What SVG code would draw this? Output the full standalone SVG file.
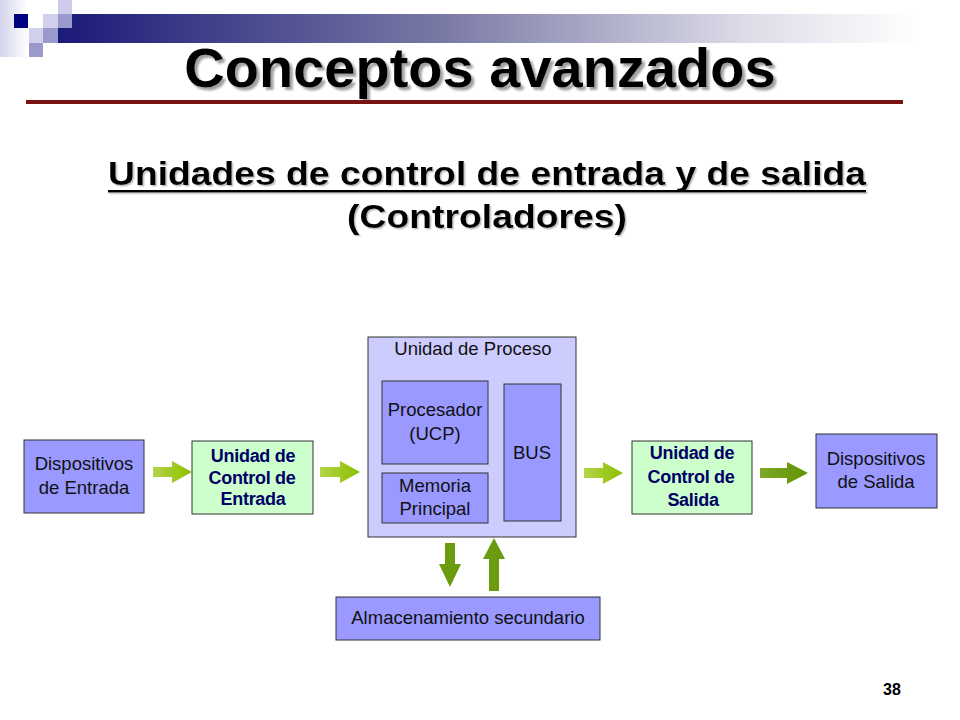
<svg xmlns="http://www.w3.org/2000/svg" width="960" height="720" viewBox="0 0 960 720">
<defs>
<linearGradient id="bar" x1="0" y1="0" x2="1" y2="0">
<stop offset="0" stop-color="#1a1a78"/>
<stop offset="0.45" stop-color="#7a7aa6"/>
<stop offset="0.8" stop-color="#dcdce8"/>
<stop offset="1" stop-color="#ffffff"/>
</linearGradient>
<linearGradient id="strip" x1="0" y1="0" x2="1" y2="0">
<stop offset="0" stop-color="#d4d4ec"/>
<stop offset="1" stop-color="#ffffff"/>
</linearGradient>
<linearGradient id="gA" x1="0" y1="0" x2="1" y2="0">
<stop offset="0" stop-color="#b4d44a"/>
<stop offset="1" stop-color="#8cbf00"/>
</linearGradient>
<linearGradient id="gB" x1="0" y1="0" x2="1" y2="0">
<stop offset="0" stop-color="#7fa82a"/>
<stop offset="1" stop-color="#5f9400"/>
</linearGradient>
<filter id="shadow" x="-5%" y="-20%" width="110%" height="140%">
<feDropShadow dx="3" dy="3" stdDeviation="0.8" flood-color="#888" flood-opacity="0.8"/>
</filter>
<filter id="shadow2" x="-5%" y="-20%" width="110%" height="140%">
<feDropShadow dx="1.5" dy="1.5" stdDeviation="0.6" flood-color="#999" flood-opacity="0.6"/>
</filter>
<style>
.box{stroke:#333;stroke-width:1}
.blue{fill:#9999ff}
.pale{fill:#ccccff}
.green{fill:#ccffcc}
.t{font-family:"Liberation Sans",Arial,sans-serif;font-size:18.5px;fill:#111;text-anchor:middle}
.b{font-family:"Liberation Sans",Arial,sans-serif;font-size:18px;font-weight:bold;fill:#000066;text-anchor:middle;letter-spacing:-0.3px}
.va{fill:#6b9c10}
</style>
</defs>

<g id="header">
<rect x="0" y="0" width="28" height="57" fill="url(#strip)"/>
<rect x="58" y="14" width="860" height="29" fill="url(#bar)"/>
<rect x="14" y="14" width="14" height="14" fill="#000080"/>
<rect x="58" y="0" width="14" height="14" fill="#ccccea"/>
<rect x="43" y="14" width="15" height="14" fill="#d0d0ec"/>
<rect x="58" y="14" width="14" height="14" fill="#9999cc"/>
<rect x="29" y="28" width="14" height="15" fill="#d0d0ec"/>
<rect x="43" y="28" width="15" height="15" fill="#9999cc"/>
<rect x="29" y="43" width="14" height="14" fill="#9999cc"/>
<text x="480" y="87" font-family="Liberation Sans,Arial,sans-serif" font-size="56" font-weight="bold" fill="#000" text-anchor="middle" filter="url(#shadow)">Conceptos avanzados</text>
<rect x="26" y="100" width="877" height="4" fill="#7a1212"/>
</g>

<g id="subtitle" filter="url(#shadow2)">
<text x="108" y="185" font-family="Liberation Sans,Arial,sans-serif" font-size="34" font-weight="bold" fill="#000" textLength="758" lengthAdjust="spacingAndGlyphs">Unidades de control de entrada y de salida</text>
<rect x="108" y="190" width="758" height="2.5" fill="#000"/>
<text x="347" y="228" font-family="Liberation Sans,Arial,sans-serif" font-size="34" font-weight="bold" fill="#000" textLength="280" lengthAdjust="spacingAndGlyphs">(Controladores)</text>
</g>

<g id="disp-entrada">
<rect class="box blue" x="24" y="440" width="120" height="73"/>
<text class="t" x="84" y="470">Dispositivos</text>
<text class="t" x="84" y="494">de Entrada</text>
</g>

<g id="uc-entrada">
<rect class="box green" x="192" y="441" width="121" height="73"/>
<text class="b" x="253" y="462">Unidad de</text>
<text class="b" x="252" y="484">Control de</text>
<text class="b" x="253" y="505">Entrada</text>
</g>

<g id="unidad-proceso">
<rect class="box pale" x="368" y="337" width="208" height="200"/>
<text class="t" x="473" y="355">Unidad de Proceso</text>
</g>

<g id="procesador">
<rect class="box blue" x="382" y="381" width="106" height="83"/>
<text class="t" x="435" y="416">Procesador</text>
<text class="t" x="435" y="440">(UCP)</text>
</g>

<g id="memoria">
<rect class="box blue" x="382" y="473" width="106" height="50"/>
<text class="t" x="435" y="492">Memoria</text>
<text class="t" x="435" y="515">Principal</text>
</g>

<g id="bus">
<rect class="box blue" x="504" y="384" width="57" height="137"/>
<text class="t" x="532" y="459">BUS</text>
</g>

<g id="almacenamiento">
<rect class="box blue" x="336" y="597" width="264" height="43"/>
<text class="t" x="468" y="624">Almacenamiento secundario</text>
</g>

<g id="uc-salida">
<rect class="box green" x="632" y="441" width="120" height="73"/>
<text class="b" x="692" y="459">Unidad de</text>
<text class="b" x="691" y="483">Control de</text>
<text class="b" x="693" y="506">Salida</text>
</g>

<g id="disp-salida">
<rect class="box blue" x="816" y="434" width="121" height="74"/>
<text class="t" x="876" y="465">Dispositivos</text>
<text class="t" x="876" y="488">de Salida</text>
</g>

<g id="connectors">
<polygon fill="url(#gA)" points="153,467 172,467 172,461 192,472 172,483 172,477 153,477"/>
<polygon fill="url(#gA)" points="320,467 340,467 340,461 360,472 340,483 340,477 320,477"/>
<polygon fill="url(#gA)" points="584,468 603,468 603,462 623,473 603,484 603,478 584,478"/>
<polygon fill="url(#gB)" points="760,468 787,468 787,462 808,473 787,484 787,478 760,478"/>
<polygon class="va" points="445,543 455,543 455,564 461,564 450,587 439,564 445,564"/>
<polygon class="va" points="489,591 499,591 499,559 505,559 494,538 483,559 489,559"/>
</g>

<text x="892" y="695" font-family="Liberation Sans,Arial,sans-serif" font-size="16" font-weight="bold" fill="#000" text-anchor="middle">38</text>
</svg>
